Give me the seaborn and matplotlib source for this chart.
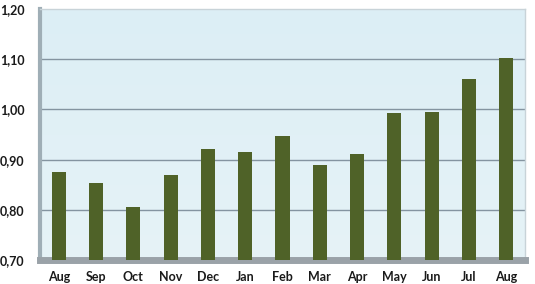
import matplotlib
matplotlib.use("Agg")
import matplotlib.pyplot as plt
import seaborn as sns
import pandas as pd
import numpy as np
from matplotlib.colors import LinearSegmentedColormap

months = ["Aug", "Sep", "Oct", "Nov", "Dec", "Jan", "Feb", "Mar", "Apr", "May", "Jun", "Jul", "Aug"]
values = [0.875, 0.853, 0.806, 0.869, 0.921, 0.915, 0.947, 0.889, 0.911, 0.993, 0.995, 1.060, 1.102]
yticks = [0.70, 0.80, 0.90, 1.00, 1.10, 1.20]
ytick_labels = ["0,70", "0,80", "0,90", "1,00", "1,10", "1,20"]

sns.set_style("white")
plt.rcParams['font.family'] = ['Lato', 'DejaVu Sans']

df = pd.DataFrame({"pos": [str(i) for i in range(len(months))], "value": values})

fig = plt.figure(figsize=(5.35, 2.84), dpi=100)
ax = fig.add_axes([0.075, 0.0845, 0.906, 0.8835])

# background gradient
grad = np.linspace(0, 1, 256).reshape(-1, 1)
cmap = LinearSegmentedColormap.from_list("bg", ["#E6F3F7", "#DCEEF5"])
ax.imshow(grad, aspect="auto", cmap=cmap, extent=[-0.5, 12.5, 0.70, 1.20], origin="lower", zorder=0)

for y in yticks[1:-1]:
    ax.axhline(y, color="#8494A0", lw=1.0, zorder=1)

sns.barplot(data=df, x="pos", y="value", color="#4F6228", saturation=1, width=0.38, ax=ax, zorder=3,
            linewidth=0, edgecolor="none")

ax.set_xlim(-0.5, 12.5)
ax.set_ylim(0.70, 1.20)
ax.set_yticks(yticks)
ax.set_yticklabels(ytick_labels, fontsize=9, fontweight="bold", color="#1a1a1a")
ax.set_xticks(range(len(months)))
ax.set_xticklabels(months, fontsize=9, fontweight="bold", color="#1a1a1a")
ax.tick_params(axis="y", length=0, pad=11)
ax.tick_params(axis="x", length=0, pad=8)
ax.set_xlabel("")
ax.set_ylabel("")

for side in ["top", "right"]:
    ax.spines[side].set_color("#C8D3D8")
    ax.spines[side].set_linewidth(1.0)
ax.spines["left"].set_color("#9FAEB6")
ax.spines["left"].set_linewidth(3)
ax.spines["bottom"].set_color("#9AA2A8")
ax.spines["bottom"].set_linewidth(5)

fig.savefig("out.png", dpi=100, facecolor="white")
